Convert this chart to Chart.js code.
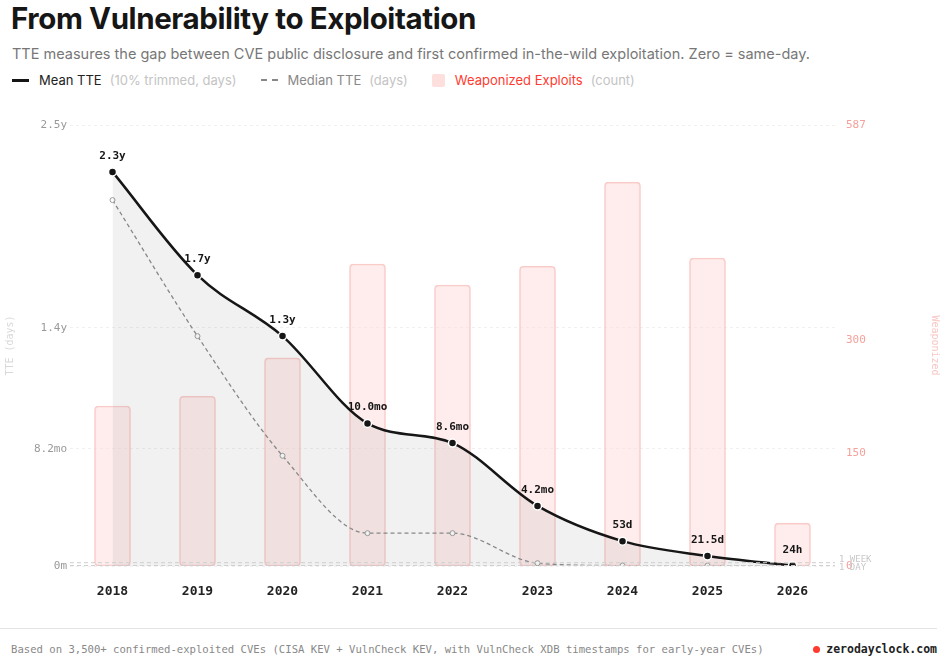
<!DOCTYPE html>
<html>
<head>
<meta charset="utf-8">
<script src="https://cdn.jsdelivr.net/npm/chart.js@4.4.1/dist/chart.umd.min.js"></script>
<style>
  body { margin: 0; background: #fff; font-family: Inter, "Noto Sans", sans-serif; width: 945px; height: 665px; position: relative; overflow: hidden; }
  h1 { position: absolute; left: 11px; top: 0; margin: 0; font-size: 29.5px; font-weight: 700; color: #161616; letter-spacing: -0.4px; }
  .sub { position: absolute; left: 12px; top: 45px; font-size: 14.5px; color: #777; }
  .legend { position: absolute; left: 12px; top: 72px; font-size: 13px; display: flex; align-items: center; }
  .legend .item { display: flex; align-items: center; margin-right: 24px; }
  .legend .muted { color: #c4c4c4; margin-left: 8px; }
  .sw { display: inline-block; margin-right: 10px; }
  #wrap { position: absolute; left: 0; top: 100px; width: 945px; height: 510px; }
  .foot { position: absolute; left: 0; right: 8px; top: 628px; border-top: 1px solid #e3e3e3; }
  .foot .l { position: absolute; left: 11px; top: 14px; font-family: "DejaVu Sans Mono", monospace; font-size: 10.6px; color: #888; white-space: nowrap; }
  .foot .r { position: absolute; right: 0; top: 13px; font-family: "DejaVu Sans Mono", monospace; font-size: 11.5px; font-weight: 700; color: #222; }
  .dot { display: inline-block; width: 7px; height: 7px; border-radius: 50%; background: #ff3b30; margin-right: 6px; }
</style>
</head>
<body>
<h1>From Vulnerability to Exploitation</h1>
<div class="sub">TTE measures the gap between CVE public disclosure and first confirmed in-the-wild exploitation. Zero = same-day.</div>
<div class="legend">
  <div class="item"><span class="sw" style="width:17px;height:3px;background:#161616"></span><span style="color:#222">Mean TTE</span><span class="muted">(10% trimmed, days)</span></div>
  <div class="item"><span class="sw" style="width:17px;border-top:2px dashed #888"></span><span style="color:#888">Median TTE</span><span class="muted">(days)</span></div>
  <div class="item"><span class="sw" style="width:13px;height:13px;background:#fde0de;border-radius:2px"></span><span style="color:#ff3b30">Weaponized Exploits</span><span class="muted">(count)</span></div>
</div>
<div id="wrap"><canvas id="myChart"></canvas></div>
<div class="foot">
  <span class="l">Based on 3,500+ confirmed-exploited CVEs (CISA KEV + VulnCheck KEV, with VulnCheck XDB timestamps for early-year CVEs)</span>
  <span class="r"><span class="dot"></span>zerodayclock.com</span>
</div>
<script>
const years = ['2018', '2019', '2020', '2021', '2022', '2023', '2024', '2025', '2026'];
const meanDays = [840, 620, 490, 304, 262, 128, 53, 21.5, 1];
const meanLabels = ['2.3y', '1.7y', '1.3y', '10.0mo', '8.6mo', '4.2mo', '53d', '21.5d', '24h'];
const medianDays = [780, 490, 235, 70, 70, 6, 1, 1, 0.5];
const exploits = [213, 226, 277, 402, 374, 399, 511, 410, 57];
const leftTicks = [0, 250, 508, 940];
const leftTickLabels = ['0m', '8.2mo', '1.4y', '2.5y'];
const rightTicks = [0, 150, 300, 587];
const refLines = [{ days: 7, label: '1 WEEK' }, { days: 1, label: '1 DAY' }];

const mono = "'DejaVu Sans Mono', monospace";

const overlay = {
  id: 'overlay',
  afterDatasetsDraw(chart) {
    const ctx = chart.ctx;
    const y = chart.scales.y;
    const area = chart.chartArea;
    ctx.save();
    ctx.setLineDash([4, 3]);
    ctx.strokeStyle = '#cfcfcf';
    ctx.lineWidth = 1;
    ctx.font = '9px ' + mono;
    ctx.fillStyle = '#c8c8c8';
    refLines.forEach((r, i) => {
      const py = y.getPixelForValue(r.days);
      ctx.beginPath();
      ctx.moveTo(area.left, py);
      ctx.lineTo(area.right, py);
      ctx.stroke();
      ctx.fillText(r.label, area.right + 4, py + (i === 0 ? -1 : 4));
    });
    ctx.setLineDash([]);
    const meta = chart.getDatasetMeta(1);
    ctx.font = 'bold 11px ' + mono;
    ctx.fillStyle = '#161616';
    ctx.textAlign = 'center';
    meta.data.forEach((pt, i) => {
      ctx.fillText(meanLabels[i], pt.x, pt.y - 13);
    });
    ctx.restore();
  }
};

const config = {
  data: {
    labels: years,
    datasets: [
      {
        type: 'bar', label: 'Weaponized Exploits', data: exploits, yAxisID: 'y2',
        backgroundColor: 'rgba(253, 215, 212, 0.45)', borderColor: 'rgba(248, 190, 186, 0.8)',
        borderWidth: 1, borderRadius: 4, borderSkipped: false, barThickness: 36, order: 3
      },
      {
        type: 'line', label: 'Mean TTE', data: meanDays, yAxisID: 'y',
        borderColor: '#161616', borderWidth: 2.5, cubicInterpolationMode: 'monotone',
        fill: 'origin', backgroundColor: 'rgba(120, 120, 120, 0.1)',
        pointRadius: 4, pointBackgroundColor: '#161616', pointBorderColor: '#fff', pointBorderWidth: 1.5, order: 1
      },
      {
        type: 'line', label: 'Median TTE', data: medianDays, yAxisID: 'y',
        borderColor: '#8a8a8a', borderWidth: 1.3, borderDash: [4, 3], cubicInterpolationMode: 'monotone',
        fill: false, pointRadius: 2.5, pointBackgroundColor: '#fff', pointBorderColor: '#9a9a9a', pointBorderWidth: 1, order: 2
      }
    ]
  },
  options: {
    responsive: true, maintainAspectRatio: false, animation: false,
    layout: { padding: { top: 25 } },
    plugins: { legend: { display: false }, tooltip: { enabled: false } },
    scales: {
      x: {
        grid: { display: false }, border: { display: false },
        ticks: { color: '#222', font: { family: mono, size: 13, weight: 'bold' }, padding: 10 },
        afterFit(s) { s.height = 44; }
      },
      y: {
        position: 'left', min: 0, max: 940,
        afterBuildTicks(s) { s.ticks = leftTicks.map(v => ({ value: v })); },
        ticks: { color: '#999', font: { family: mono, size: 11 }, callback: (v) => leftTickLabels[leftTicks.indexOf(v)] },
        grid: { color: '#f0f0f0', drawTicks: false }, border: { display: false, dash: [3, 3] },
        title: { display: true, text: 'TTE (days)', color: '#d8d8d8', font: { family: mono, size: 10 } },
        afterFit(s) { s.width = 70; }
      },
      y2: {
        position: 'right', min: 0, max: 587,
        afterBuildTicks(s) { s.ticks = rightTicks.map(v => ({ value: v })); },
        ticks: { color: '#f4a19b', font: { family: mono, size: 11 } },
        grid: { display: false }, border: { display: false },
        title: { display: true, text: 'Weaponized', color: '#f8c6c2', font: { family: mono, size: 10 } },
        afterFit(s) { s.width = 110; }
      }
    }
  },
  plugins: [overlay]
};

const myChart = document.getElementById('myChart');
new Chart(myChart, config);
</script>
</body>
</html>
